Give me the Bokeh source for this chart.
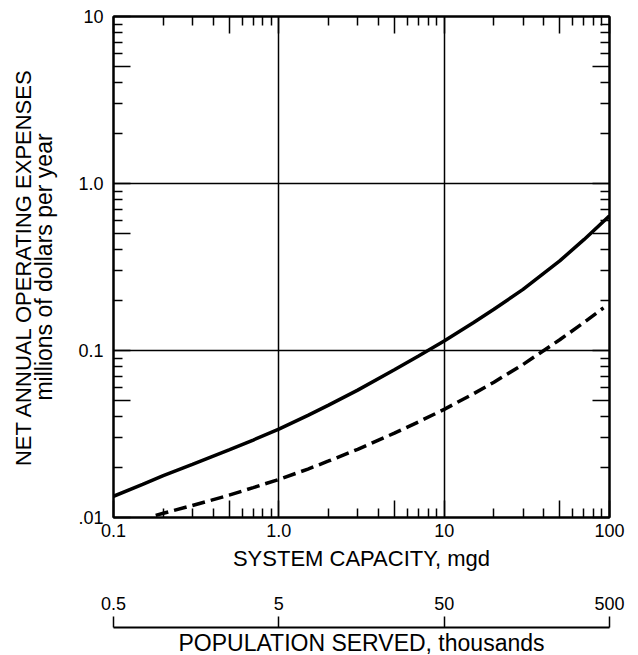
from bokeh.plotting import figure
from bokeh.models import Range1d, FixedTicker, LogAxis, Title
from bokeh.layouts import column
from bokeh.embed import file_html
from bokeh.resources import INLINE

# ---- data ----
capacity_solid = [0.1, 0.15, 0.2, 0.3, 0.5, 0.7, 1, 1.5, 2, 3, 5, 7, 10,
                  15, 20, 30, 50, 70, 100]
expense_solid = [0.0134, 0.0158, 0.0178, 0.0208, 0.0254, 0.0291, 0.0338,
                 0.0409, 0.0471, 0.0579, 0.0766, 0.0927, 0.114,
                 0.1466, 0.1766, 0.2323, 0.344, 0.461, 0.641]

capacity_dashed = [0.18, 0.2, 0.3, 0.5, 0.7, 1, 1.5, 2, 3, 5, 7, 10, 15,
                   20, 30, 50, 70, 92]
expense_dashed = [0.0103, 0.0106, 0.0118, 0.0136, 0.0151, 0.0169, 0.0195,
                  0.0218, 0.0256, 0.0320, 0.0374, 0.0444, 0.0550,
                  0.0646, 0.0825, 0.116, 0.147, 0.180]

x_major = [0.1, 0.5, 1, 5, 10, 50, 100]
x_minor = [0.2, 0.3, 0.4, 0.6, 0.7, 0.8, 0.9, 2, 3, 4, 6, 7, 8, 9,
           20, 30, 40, 60, 70, 80, 90]
x_labels = {0.1: "0.1", 0.5: "", 1: "1.0", 5: "", 10: "10", 50: "", 100: "100"}
x_grid = [0.1, 1, 10, 100]

y_major = [0.01, 0.05, 0.1, 0.5, 1, 5, 10]
y_minor = [0.02, 0.03, 0.04, 0.06, 0.07, 0.08, 0.09, 0.2, 0.3, 0.4, 0.6, 0.7,
           0.8, 0.9, 2, 3, 4, 6, 7, 8, 9]
y_labels = {0.01: ".01", 0.05: "", 0.1: "0.1", 0.5: "", 1: "1.0", 5: "", 10: "10"}
y_grid = [0.01, 0.1, 1, 10]

pop_ticks = [0.5, 5, 50, 500]
pop_labels = {0.5: "0.5", 5: "5", 50: "50", 500: "500"}

FONT = "Liberation Sans"

p = figure(width=638, height=580, x_axis_type="log", y_axis_type="log",
           x_range=Range1d(0.1, 100), y_range=Range1d(0.01, 10),
           output_backend="svg", toolbar_location=None,
           min_border_left=113, min_border_right=29,
           min_border_top=16, min_border_bottom=63)
p.outline_line_color = "black"
p.outline_line_width = 2
p.background_fill_color = "white"
p.border_fill_color = "white"


def style_axis(ax, major, minor, labels, show):
    ax.ticker = FixedTicker(ticks=major, minor_ticks=minor)
    ax.major_tick_in = 17
    ax.major_tick_out = 0
    ax.minor_tick_in = 9
    ax.minor_tick_out = 0
    ax.major_tick_line_color = "black"
    ax.minor_tick_line_color = "black"
    ax.major_tick_line_width = 1.5
    ax.minor_tick_line_width = 1.5
    ax.axis_line_color = "black"
    ax.axis_line_width = 2
    if show:
        ax.major_label_overrides = labels
        ax.major_label_text_font = FONT
        ax.major_label_text_font_size = "18px"
        ax.major_label_text_color = "black"
    else:
        ax.major_label_overrides = {k: "" for k in major}
        ax.major_label_text_font_size = "0px"
        ax.major_label_standoff = 0


xb = p.xaxis[0]
style_axis(xb, x_major, x_minor, x_labels, True)
xb.major_label_standoff = 6
xb.axis_label = "SYSTEM CAPACITY, mgd"
xb.axis_label_text_font = FONT
xb.axis_label_text_font_size = "22px"
xb.axis_label_text_font_style = "normal"
xb.axis_label_text_color = "black"
xb.axis_label_standoff = 6

yl = p.yaxis[0]
style_axis(yl, y_major, y_minor, y_labels, True)
yl.major_label_standoff = 10
yl.axis_label = "millions of dollars per year"
yl.axis_label_text_font = FONT
yl.axis_label_text_font_size = "23px"
yl.axis_label_text_font_style = "normal"
yl.axis_label_text_color = "black"
yl.axis_label_standoff = 18

xt = LogAxis()
style_axis(xt, x_major, x_minor, x_labels, False)
p.add_layout(xt, "above")

yr = LogAxis()
style_axis(yr, y_major, y_minor, y_labels, False)
p.add_layout(yr, "right")

p.xgrid.ticker = FixedTicker(ticks=x_grid)
p.ygrid.ticker = FixedTicker(ticks=y_grid)
for g in (p.xgrid[0], p.ygrid[0]):
    g.grid_line_color = "black"
    g.grid_line_width = 1.5
    g.grid_line_alpha = 1.0

p.line(capacity_solid, expense_solid, line_color="black", line_width=3.5)
p.line(capacity_dashed, expense_dashed, line_color="black", line_width=3.5,
       line_dash="13 6")

t_main = Title(text="NET ANNUAL OPERATING EXPENSES", align="center",
               text_font=FONT, text_font_size="22px", text_font_style="normal",
               text_color="black", standoff=-14)
p.add_layout(t_main, "left")

# ---- population scale ----
p2 = figure(width=638, height=80, x_axis_type="log", x_axis_location="above",
            y_axis_type=None, x_range=Range1d(0.5, 500), y_range=Range1d(0, 1),
            output_backend="svg", toolbar_location=None,
            min_border_left=113, min_border_right=29,
            min_border_top=47, min_border_bottom=31)
p2.outline_line_color = None
p2.grid.visible = False
pa = p2.xaxis[0]
pa.ticker = FixedTicker(ticks=pop_ticks, minor_ticks=[])
pa.major_tick_out = 11
pa.major_tick_in = 0
pa.major_tick_line_color = "black"
pa.major_tick_line_width = 1.5
pa.axis_line_color = "black"
pa.axis_line_width = 2
pa.major_label_overrides = pop_labels
pa.major_label_text_font = FONT
pa.major_label_text_font_size = "18px"
pa.major_label_text_color = "black"
pa.major_label_standoff = 7

pb = LogAxis(ticker=FixedTicker(ticks=[], minor_ticks=[]))
pb.axis_line_color = None
pb.major_tick_line_color = None
pb.minor_tick_line_color = None
pb.major_label_text_font_size = "0px"
pb.major_label_standoff = 0
pb.axis_label = "POPULATION SERVED, thousands"
pb.axis_label_text_font = FONT
pb.axis_label_text_font_size = "23px"
pb.axis_label_text_font_style = "normal"
pb.axis_label_text_color = "black"
pb.axis_label_standoff = 0
p2.add_layout(pb, "below")

layout = column(p, p2)
open("out.html", "w").write(file_html(layout, INLINE))
